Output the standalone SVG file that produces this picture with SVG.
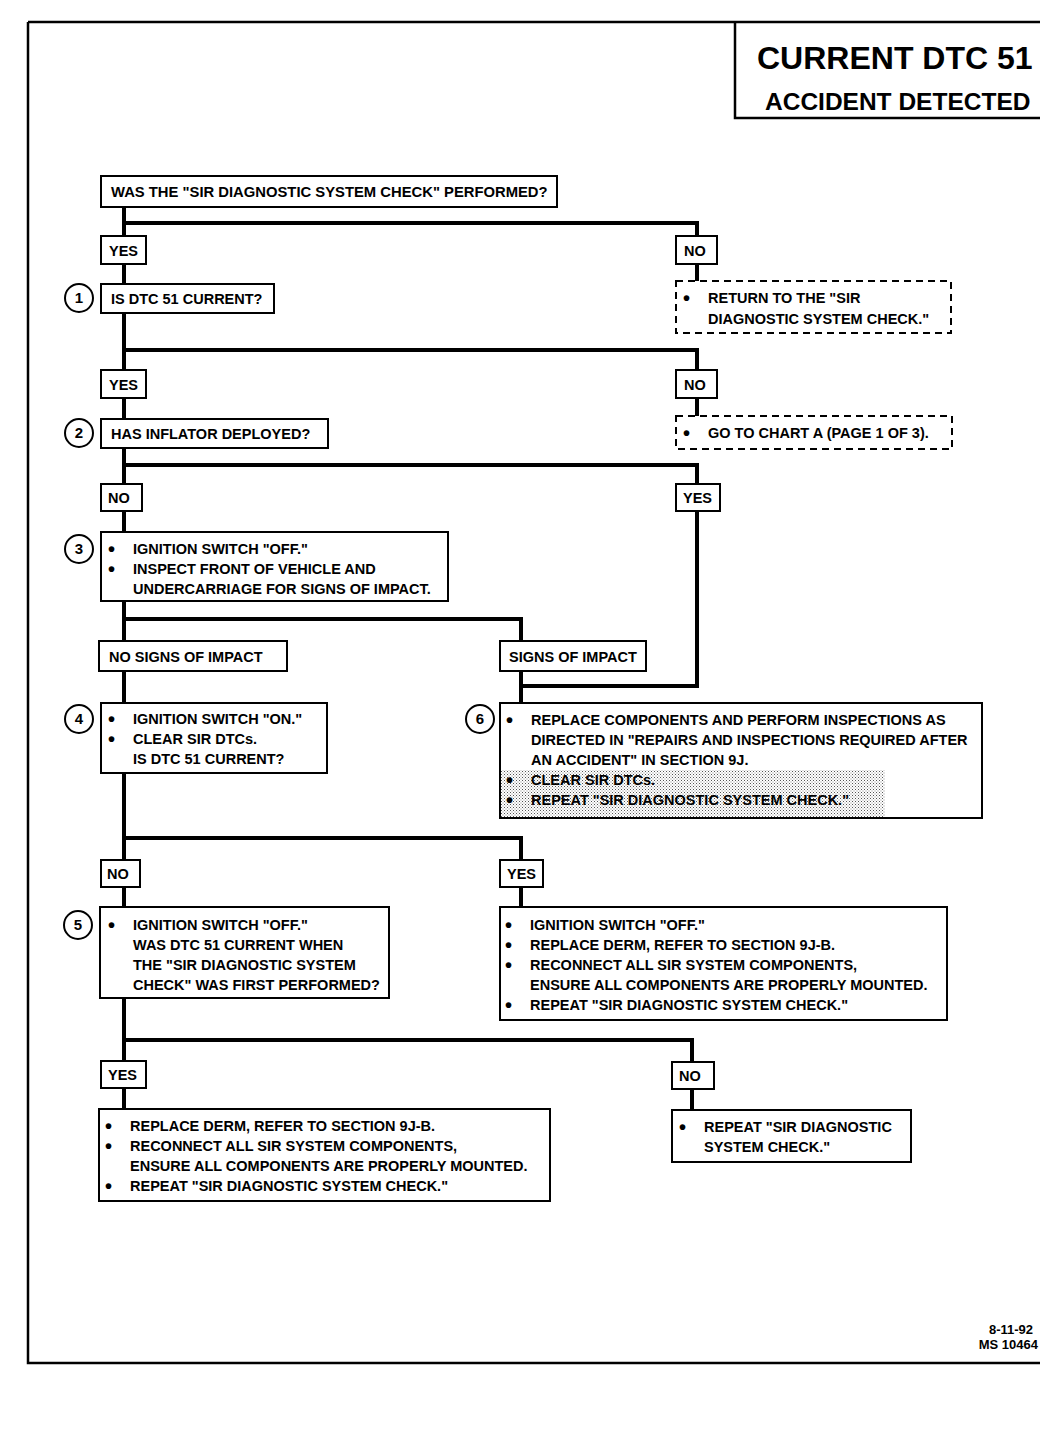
<svg xmlns="http://www.w3.org/2000/svg" width="1040" height="1440" viewBox="0 0 1040 1440">
<defs>
<pattern id="stip" width="3" height="3" patternUnits="userSpaceOnUse">
<rect width="3" height="3" fill="#ffffff"/>
<rect x="0" y="0" width="1" height="1" fill="#555"/>
<rect x="1.5" y="1.5" width="1" height="1" fill="#888"/>
</pattern>
</defs>
<style>
.t{font-family:"Liberation Sans",Arial,sans-serif;font-weight:bold;font-size:14.5px;fill:#000}
.b{font-family:"Liberation Sans",Arial,sans-serif;font-weight:bold;font-size:20px;fill:#000}
.box{fill:#fff;stroke:#000;stroke-width:2}
.dash{fill:#fff;stroke:#000;stroke-width:2;stroke-dasharray:7 5}
.lbl{fill:#fff;stroke:#000;stroke-width:2}
.circ{fill:#fff;stroke:#000;stroke-width:2}
.num{font-family:"Liberation Sans",Arial,sans-serif;font-weight:bold;font-size:15px;text-anchor:middle}
.con{fill:none;stroke:#000;stroke-width:4}
.frame{fill:none;stroke:#000;stroke-width:2.5}
</style>
<rect width="1040" height="1440" fill="#fff"/>
<g id="frame">
<path class="frame" d="M28,22 H1040 M28,22 V1363 H1040"/>
<path class="frame" d="M735,22 V118 H1040"/>
<text x="757" y="69" style="font-family:'Liberation Sans',Arial,sans-serif;font-weight:bold;font-size:32px">CURRENT DTC 51</text>
<text x="765" y="110" style="font-family:'Liberation Sans',Arial,sans-serif;font-weight:bold;font-size:24.5px">ACCIDENT DETECTED</text>
<text x="1033" y="1334" class="t" style="font-size:13px" text-anchor="end">8-11-92</text>
<text x="1038" y="1349" class="t" style="font-size:13px" text-anchor="end">MS 10464</text>
</g>
<g id="connectors">
<path class="con" d="M124,207 V1109"/>
<path class="con" d="M124,223 H697 V281"/>
<path class="con" d="M124,350 H697 V416"/>
<path class="con" d="M124,465 H697 V686 H521"/>
<path class="con" d="M124,619 H521 V703"/>
<path class="con" d="M124,838 H521 V907"/>
<path class="con" d="M124,1040 H692 V1110"/>
</g>
<g id="q0">
<rect class="box" x="101" y="176" width="456" height="31"/>
<text class="t" x="111" y="197" style="font-size:14.8px">WAS THE "SIR DIAGNOSTIC SYSTEM CHECK" PERFORMED?</text>
</g>
<g id="l-yes1"><rect class="lbl" x="101" y="236" width="45" height="28"/><text class="t" x="109" y="256">YES</text></g>
<g id="l-no1"><rect class="lbl" x="676" y="236" width="41" height="28"/><text class="t" x="684" y="256">NO</text></g>
<g id="q1">
<circle class="circ" cx="79" cy="298" r="14"/><text class="num" x="79" y="303">1</text>
<rect class="box" x="101" y="284" width="173" height="29"/>
<text class="t" x="111" y="304">IS DTC 51 CURRENT?</text>
</g>
<g id="r1">
<rect class="dash" x="676" y="281" width="275" height="52"/>
<text class="b" x="683" y="305">•</text>
<text class="t" x="708" y="303">RETURN TO THE "SIR</text>
<text class="t" x="708" y="324">DIAGNOSTIC SYSTEM CHECK."</text>
</g>
<g id="l-yes2"><rect class="lbl" x="101" y="370" width="45" height="28"/><text class="t" x="109" y="390">YES</text></g>
<g id="l-no2"><rect class="lbl" x="676" y="370" width="41" height="28"/><text class="t" x="684" y="390">NO</text></g>
<g id="q2">
<circle class="circ" cx="79" cy="433" r="14"/><text class="num" x="79" y="438">2</text>
<rect class="box" x="101" y="419" width="227" height="29"/>
<text class="t" x="111" y="439">HAS INFLATOR DEPLOYED?</text>
</g>
<g id="r2">
<rect class="dash" x="676" y="416" width="276" height="33"/>
<text class="b" x="683" y="440">•</text>
<text class="t" x="708" y="438">GO TO CHART A (PAGE 1 OF 3).</text>
</g>
<g id="l-no3"><rect class="lbl" x="101" y="484" width="41" height="27"/><text class="t" x="108" y="503">NO</text></g>
<g id="l-yes3"><rect class="lbl" x="676" y="484" width="44" height="27"/><text class="t" x="683" y="503">YES</text></g>
<g id="s3">
<circle class="circ" cx="79" cy="549" r="14"/><text class="num" x="79" y="554">3</text>
<rect class="box" x="101" y="532" width="347" height="69"/>
<text class="b" x="108" y="556">•</text><text class="t" x="133" y="554">IGNITION SWITCH "OFF."</text>
<text class="b" x="108" y="576">•</text><text class="t" x="133" y="574">INSPECT FRONT OF VEHICLE AND</text>
<text class="t" x="133" y="594">UNDERCARRIAGE FOR SIGNS OF IMPACT.</text>
</g>
<g id="l-nosigns"><rect class="lbl" x="99" y="641" width="188" height="30"/><text class="t" x="109" y="662">NO SIGNS OF IMPACT</text></g>
<g id="l-signs"><rect class="lbl" x="500" y="641" width="146" height="30"/><text class="t" x="509" y="662">SIGNS OF IMPACT</text></g>
<g id="s4">
<circle class="circ" cx="79" cy="719" r="14"/><text class="num" x="79" y="724">4</text>
<rect class="box" x="101" y="703" width="226" height="70"/>
<text class="b" x="108" y="726">•</text><text class="t" x="133" y="724">IGNITION SWITCH "ON."</text>
<text class="b" x="108" y="746">•</text><text class="t" x="133" y="744">CLEAR SIR DTCs.</text>
<text class="t" x="133" y="764">IS DTC 51 CURRENT?</text>
</g>
<g id="s6">
<circle class="circ" cx="480" cy="719" r="14"/><text class="num" x="480" y="724">6</text>
<rect class="box" x="500" y="703" width="482" height="115"/>
<rect x="501" y="770" width="384" height="47" fill="url(#stip)"/>
<text class="b" x="506" y="727">•</text><text class="t" x="531" y="725">REPLACE COMPONENTS AND PERFORM INSPECTIONS AS</text>
<text class="t" x="531" y="745">DIRECTED IN "REPAIRS AND INSPECTIONS REQUIRED AFTER</text>
<text class="t" x="531" y="765">AN ACCIDENT" IN SECTION 9J.</text>
<text class="b" x="506" y="787">•</text><text class="t" x="531" y="785">CLEAR SIR DTCs.</text>
<text class="b" x="506" y="807">•</text><text class="t" x="531" y="805">REPEAT "SIR DIAGNOSTIC SYSTEM CHECK."</text>
</g>
<g id="l-no4"><rect class="lbl" x="101" y="860" width="39" height="27"/><text class="t" x="107" y="879">NO</text></g>
<g id="l-yes4"><rect class="lbl" x="500" y="860" width="43" height="27"/><text class="t" x="507" y="879">YES</text></g>
<g id="s5">
<circle class="circ" cx="78" cy="925" r="14"/><text class="num" x="78" y="930">5</text>
<rect class="box" x="100" y="907" width="289" height="91"/>
<text class="b" x="108" y="932">•</text><text class="t" x="133" y="930">IGNITION SWITCH "OFF."</text>
<text class="t" x="133" y="950">WAS DTC 51 CURRENT WHEN</text>
<text class="t" x="133" y="970">THE "SIR DIAGNOSTIC SYSTEM</text>
<text class="t" x="133" y="990">CHECK" WAS FIRST PERFORMED?</text>
</g>
<g id="s7">
<rect class="box" x="500" y="907" width="447" height="113"/>
<text class="b" x="505" y="932">•</text><text class="t" x="530" y="930">IGNITION SWITCH "OFF."</text>
<text class="b" x="505" y="952">•</text><text class="t" x="530" y="950">REPLACE DERM, REFER TO SECTION 9J-B.</text>
<text class="b" x="505" y="972">•</text><text class="t" x="530" y="970">RECONNECT ALL SIR SYSTEM COMPONENTS,</text>
<text class="t" x="530" y="990">ENSURE ALL COMPONENTS ARE PROPERLY MOUNTED.</text>
<text class="b" x="505" y="1012">•</text><text class="t" x="530" y="1010">REPEAT "SIR DIAGNOSTIC SYSTEM CHECK."</text>
</g>
<g id="l-yes5"><rect class="lbl" x="101" y="1061" width="45" height="27"/><text class="t" x="108" y="1080">YES</text></g>
<g id="l-no5"><rect class="lbl" x="672" y="1062" width="42" height="27"/><text class="t" x="679" y="1081">NO</text></g>
<g id="s8">
<rect class="box" x="99" y="1109" width="451" height="92"/>
<text class="b" x="105" y="1133">•</text><text class="t" x="130" y="1131">REPLACE DERM, REFER TO SECTION 9J-B.</text>
<text class="b" x="105" y="1153">•</text><text class="t" x="130" y="1151">RECONNECT ALL SIR SYSTEM COMPONENTS,</text>
<text class="t" x="130" y="1171">ENSURE ALL COMPONENTS ARE PROPERLY MOUNTED.</text>
<text class="b" x="105" y="1193">•</text><text class="t" x="130" y="1191">REPEAT "SIR DIAGNOSTIC SYSTEM CHECK."</text>
</g>
<g id="s9">
<rect class="box" x="672" y="1110" width="239" height="52"/>
<text class="b" x="679" y="1134">•</text><text class="t" x="704" y="1132">REPEAT "SIR DIAGNOSTIC</text>
<text class="t" x="704" y="1152">SYSTEM CHECK."</text>
</g>
</svg>
